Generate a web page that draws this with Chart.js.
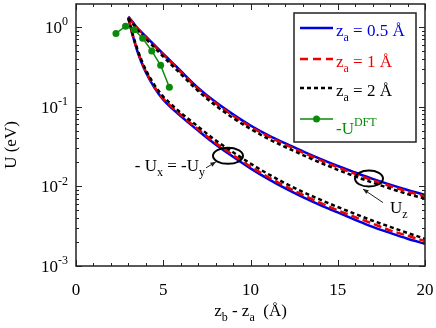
<!DOCTYPE html>
<html>
<head>
<meta charset="utf-8">
<script src="https://cdn.jsdelivr.net/npm/chart.js@4.4.1/dist/chart.umd.min.js"></script>
<style>
    html, body { margin: 0; padding: 0; background: #fff; }
    #wrap { width: 436px; height: 328px; }
</style>
</head>
<body>
<div id="wrap"><canvas id="chart" width="436" height="328"></canvas></div>
<script>
// separation z_b - z_a (Å) shared by the model curves
const zGrid = [3, 3.25, 3.5, 3.75, 4, 4.5, 5, 5.5, 6, 7, 8, 9, 10, 11, 12, 13, 14, 15, 16, 17, 18, 19, 20];

// U_z (upper family)
const uzA05 = [1.35, 1.15, 0.98, 0.86, 0.76, 0.59, 0.46, 0.36, 0.28, 0.172, 0.114, 0.080, 0.058, 0.044, 0.0345, 0.0275, 0.0221, 0.0180, 0.0149, 0.0124, 0.0105, 0.0090, 0.0078];
const uzA1  = [1.33, 1.13, 0.96, 0.84, 0.74, 0.575, 0.447, 0.35, 0.272, 0.166, 0.110, 0.077, 0.056, 0.0425, 0.0333, 0.0265, 0.0213, 0.0173, 0.0143, 0.0119, 0.0101, 0.0086, 0.0075];
const uzA2  = [1.30, 1.10, 0.93, 0.81, 0.71, 0.55, 0.425, 0.33, 0.257, 0.157, 0.103, 0.072, 0.0525, 0.0397, 0.0311, 0.0247, 0.0198, 0.0161, 0.0133, 0.0111, 0.0094, 0.0080, 0.0070];

// -U_x = -U_y (lower family)
const uxA05 = [1.30, 0.78, 0.51, 0.36, 0.27, 0.172, 0.122, 0.095, 0.076, 0.050, 0.0335, 0.0235, 0.0168, 0.0124, 0.0094, 0.0073, 0.0058, 0.0047, 0.0038, 0.0031, 0.0026, 0.0022, 0.0019];
const uxA1  = [1.30, 0.79, 0.52, 0.37, 0.278, 0.177, 0.126, 0.099, 0.079, 0.052, 0.0350, 0.0247, 0.0177, 0.0131, 0.0100, 0.0078, 0.0062, 0.0050, 0.0041, 0.0034, 0.0028, 0.0024, 0.00205];
const uxA2  = [1.28, 0.81, 0.54, 0.385, 0.29, 0.186, 0.134, 0.105, 0.084, 0.056, 0.0378, 0.0268, 0.0193, 0.0143, 0.0109, 0.0085, 0.0068, 0.0055, 0.0045, 0.0037, 0.0031, 0.0026, 0.0022];

// -U^DFT points
const dftZ = [2.29, 2.84, 3.34, 3.82, 4.34, 4.85, 5.35];
const dftU = [0.83, 1.02, 0.92, 0.72, 0.50, 0.33, 0.175];

const xTickLabels = [0, 5, 10, 15, 20];
const yDecades = [-3, -2, -1, 0];

const COLORS = {
    blue: "#0000e0",
    red: "#ee0000",
    black: "#000000",
    green: "#0a8a0a",
    axis: "#222222",
};
const SERIF = "'Liberation Serif', 'DejaVu Serif', serif";

function pts(xs, ys) {
    return xs.map((x, i) => ({ x: x, y: ys[i] }));
}

function curve(values, color, dash, order) {
    return {
        data: pts(zGrid, values),
        borderColor: color,
        borderWidth: 2.5,
        borderDash: dash,
        pointRadius: 0,
        fill: false,
        cubicInterpolationMode: "monotone",
        order: order,
    };
}

// text with sub/superscripts: parts = [[text, "n"|"sub"|"sup"], ...]
function drawRich(ctx, parts, x, y, align, size, color) {
    const fontFor = (k) => `${k === "n" ? size : Math.round(size * 0.68)}px ${SERIF}`;
    let total = 0;
    parts.forEach(([t, k]) => {
        ctx.font = fontFor(k);
        total += ctx.measureText(t).width;
    });
    let cx = align === "right" ? x - total : align === "center" ? x - total / 2 : x;
    ctx.fillStyle = color;
    ctx.textAlign = "left";
    ctx.textBaseline = "alphabetic";
    parts.forEach(([t, k]) => {
        ctx.font = fontFor(k);
        const dy = k === "sub" ? size * 0.3 : k === "sup" ? -size * 0.45 : 0;
        ctx.fillText(t, cx, y + dy);
        cx += ctx.measureText(t).width;
    });
}

function arrow(ctx, x1, y1, x2, y2) {
    const a = Math.atan2(y2 - y1, x2 - x1);
    ctx.strokeStyle = "#222";
    ctx.fillStyle = "#222";
    ctx.lineWidth = 1;
    ctx.beginPath();
    ctx.moveTo(x1, y1);
    ctx.lineTo(x2, y2);
    ctx.stroke();
    ctx.beginPath();
    ctx.moveTo(x2, y2);
    ctx.lineTo(x2 - 6 * Math.cos(a - 0.4), y2 - 6 * Math.sin(a - 0.4));
    ctx.lineTo(x2 - 6 * Math.cos(a + 0.4), y2 - 6 * Math.sin(a + 0.4));
    ctx.closePath();
    ctx.fill();
}

const decorPlugin = {
    id: "decor",
    afterDatasetsDraw(chart) {
        const ctx = chart.ctx;
        const area = chart.chartArea;
        const xs = chart.scales.x;
        const ys = chart.scales.y;
        ctx.save();

        // ticks pointing inward, on all four sides
        ctx.strokeStyle = COLORS.axis;
        ctx.lineWidth = 1;
        ctx.beginPath();
        for (let v = xs.min; v <= xs.max; v++) {
            const px = Math.round(xs.getPixelForValue(v)) + 0.5;
            const len = v % 5 === 0 ? 6 : 3;
            ctx.moveTo(px, area.bottom);
            ctx.lineTo(px, area.bottom - len);
            ctx.moveTo(px, area.top);
            ctx.lineTo(px, area.top + len);
        }
        yDecades.forEach((e) => {
            for (let m = 1; m <= 9; m++) {
                const v = m * Math.pow(10, e);
                if (v > ys.max) break;
                const py = Math.round(ys.getPixelForValue(v)) + 0.5;
                const len = m === 1 ? 6 : 3;
                ctx.moveTo(area.left, py);
                ctx.lineTo(area.left + len, py);
                ctx.moveTo(area.right, py);
                ctx.lineTo(area.right - len, py);
            }
        });
        ctx.stroke();

        // frame
        ctx.lineWidth = 1.5;
        ctx.strokeRect(area.left, area.top, area.right - area.left, area.bottom - area.top);

        // tick labels
        ctx.fillStyle = "#000";
        ctx.font = `17px ${SERIF}`;
        ctx.textAlign = "center";
        ctx.textBaseline = "middle";
        xTickLabels.forEach((v) => {
            ctx.fillText(String(v), xs.getPixelForValue(v), area.bottom + 25);
        });
        yDecades.forEach((e) => {
            const py = ys.getPixelForValue(Math.pow(10, e));
            drawRich(ctx, [["10", "n"], [String(e), "sup"]], area.left - 8, py + 6, "right", 17, "#000");
        });

        // axis titles
        drawRich(ctx, [["z", "n"], ["b", "sub"], [" - z", "n"], ["a", "sub"], ["  (Å)", "n"]],
            (area.left + area.right) / 2, area.bottom + 50, "center", 17, "#000");
        ctx.save();
        ctx.translate(16, (area.top + area.bottom) / 2 + 10);
        ctx.rotate(-Math.PI / 2);
        drawRich(ctx, [["U (eV)", "n"]], 0, 0, "center", 17, "#000");
        ctx.restore();

        // annotations
        ctx.strokeStyle = "#000";
        ctx.lineWidth = 2;
        const ex = xs.getPixelForValue(8.71), ey = ys.getPixelForValue(0.0241);
        ctx.beginPath();
        ctx.ellipse(ex, ey, 15, 8, 0, 0, Math.PI * 2);
        ctx.stroke();
        arrow(ctx, ex - 22, ey + 12, ex - 12, ey + 6);
        drawRich(ctx, [["- U", "n"], ["x", "sub"], [" = -U", "n"], ["y", "sub"]], ex - 23, ey + 15, "right", 17, "#000");

        ctx.strokeStyle = "#000";
        ctx.lineWidth = 2;
        const zx = xs.getPixelForValue(16.79), zy = ys.getPixelForValue(0.0125);
        ctx.beginPath();
        ctx.ellipse(zx, zy, 14, 8, 0, 0, Math.PI * 2);
        ctx.stroke();
        arrow(ctx, zx + 14, zy + 24, zx - 6, zy + 10.5);
        drawRich(ctx, [["U", "n"], ["z", "sub"]], zx + 21, zy + 34, "left", 17, "#000");

        // legend
        const lx = 294, ly = 13, lw = 122, lh = 129;
        ctx.fillStyle = "#fff";
        ctx.fillRect(lx, ly, lw, lh);
        ctx.strokeStyle = "#222";
        ctx.lineWidth = 1.5;
        ctx.strokeRect(lx, ly, lw, lh);
        const rows = [
            { y: 28, color: COLORS.blue, dash: [], parts: [["z", "n"], ["a", "sub"], [" = 0.5 Å", "n"]], off: 8 },
            { y: 59, color: COLORS.red, dash: [8, 5], parts: [["z", "n"], ["a", "sub"], [" = 1 Å", "n"]], off: 8 },
            { y: 88, color: COLORS.black, dash: [4, 3], parts: [["z", "n"], ["a", "sub"], [" = 2 Å", "n"]], off: 8 },
            { y: 119, color: COLORS.green, dash: [], parts: [["-U", "n"], ["DFT", "sup"]], off: 15, marker: true },
        ];
        rows.forEach((r) => {
            ctx.strokeStyle = r.color;
            ctx.lineWidth = r.marker ? 1.5 : 2.5;
            ctx.setLineDash(r.dash);
            ctx.beginPath();
            ctx.moveTo(300, r.y);
            ctx.lineTo(333, r.y);
            ctx.stroke();
            ctx.setLineDash([]);
            if (r.marker) {
                ctx.fillStyle = r.color;
                ctx.beginPath();
                ctx.arc(316.5, r.y, 3.5, 0, Math.PI * 2);
                ctx.fill();
            }
            drawRich(ctx, r.parts, 336, r.y + r.off, "left", 17, r.color);
        });

        ctx.restore();
    },
};

new Chart(document.getElementById("chart"), {
    type: "line",
    data: {
        datasets: [
            {
                data: pts(dftZ, dftU),
                borderColor: COLORS.green,
                backgroundColor: COLORS.green,
                borderWidth: 1.5,
                pointRadius: 3.5,
                pointBorderWidth: 0,
                tension: 0,
                fill: false,
                order: 0,
            },
            curve(uzA2, COLORS.black, [4, 3], 1),
            curve(uxA2, COLORS.black, [4, 3], 1),
            curve(uzA1, COLORS.red, [8, 4], 2),
            curve(uxA1, COLORS.red, [8, 4], 2),
            curve(uzA05, COLORS.blue, [], 3),
            curve(uxA05, COLORS.blue, [], 3),
        ],
    },
    options: {
        responsive: false,
        animation: false,
        layout: { padding: { left: 76, right: 11, top: 4, bottom: 62 } },
        plugins: {
            legend: { display: false },
            tooltip: { enabled: false },
        },
        scales: {
            x: { type: "linear", min: 0, max: 20, display: false },
            y: { type: "logarithmic", min: 0.001, max: 1.94, display: false },
        },
    },
    plugins: [decorPlugin],
});
</script>
</body>
</html>
